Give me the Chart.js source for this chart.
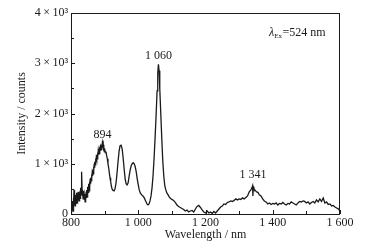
<!DOCTYPE html>
<html>
<head>
<meta charset="utf-8">
<script src="https://cdn.jsdelivr.net/npm/chart.js@4"></script>
<style>
  html, body { margin: 0; padding: 0; background: #fff; }
  #wrap { width: 372px; height: 250px; position: relative; }
</style>
</head>
<body>
<div id="wrap"><canvas id="c"></canvas></div>
<script>
// ── emission spectrum ───────────────────────────────────────────────────────
const wavelength = [
  800, 801, 802, 803, 804, 805, 806, 807, 808, 809, 810, 811, 812, 813, 814, 815,
  816, 817, 818, 819, 820, 821, 822, 823, 824, 825, 826, 827, 828, 829, 830, 831,
  832, 833, 834, 835, 836, 837, 838, 839, 840, 841, 842, 843, 844, 845, 846, 847,
  848, 849, 850, 851, 852, 853, 854, 855, 856, 857, 858, 859, 860, 861, 862, 863,
  864, 865, 866, 867, 868, 869, 870, 871, 872, 873, 874, 875, 876, 877, 878, 879,
  880, 881, 882, 883, 884, 885, 886, 887, 888, 889, 890, 891, 892, 893, 894, 895,
  896, 897, 898, 899, 900, 902, 904, 906, 908, 910, 912, 914, 916, 918, 920, 922,
  925, 928, 931, 934, 937, 940, 943, 946, 949, 952, 955, 958, 961, 964, 967, 970,
  973, 976, 979, 982, 985, 988, 991, 994, 997, 1000, 1003, 1006, 1010, 1014, 1018, 1022,
  1026, 1029, 1032, 1035, 1038, 1041, 1044, 1047, 1050, 1053, 1056, 1058, 1060, 1062, 1064, 1067,
  1070, 1073, 1076, 1079, 1082, 1085, 1088, 1092, 1096, 1100, 1105, 1110, 1115, 1120, 1125, 1130,
  1135, 1140, 1145, 1150, 1155, 1160, 1165, 1170, 1175, 1180, 1185, 1190, 1195, 1200, 1205, 1210,
  1215, 1220, 1225, 1230, 1235, 1240, 1245, 1250, 1255, 1260, 1265, 1270, 1275, 1280, 1285, 1290,
  1295, 1300, 1305, 1310, 1315, 1320, 1325, 1330, 1335, 1338, 1340, 1341, 1342, 1344, 1348, 1352,
  1356, 1360, 1365, 1370, 1375, 1380, 1385, 1390, 1395, 1400, 1405, 1410, 1415, 1420, 1425, 1430,
  1435, 1440, 1445, 1450, 1455, 1460, 1465, 1470, 1475, 1480, 1485, 1490, 1495, 1500, 1505, 1510,
  1515, 1520, 1525, 1530, 1535, 1540, 1545, 1550, 1555, 1560, 1565, 1570, 1575, 1580, 1585, 1590,
  1595, 1598, 1600
];
const intensity = [
  0, 120, 40, 260, 80, 180, 60, 320, 140, 480, 220, 300, 160, 380, 240, 320,
  200, 420, 260, 360, 240, 440, 300, 380, 260, 420, 320, 460, 300, 520, 380, 640,
  840, 480, 360, 440, 300, 460, 340, 400, 280, 360, 240, 400, 280, 440, 320, 480,
  340, 540, 400, 520, 420, 600, 460, 640, 520, 700, 600, 720, 660, 780, 700, 820,
  760, 880, 800, 940, 860, 1000, 920, 1040, 980, 1100, 1020, 1120, 1080, 1180, 1100, 1220,
  1140, 1260, 1180, 1300, 1200, 1340, 1240, 1320, 1260, 1380, 1280, 1360, 1300, 1400, 1460, 1320,
  1380, 1260, 1340, 1240, 1300, 1220, 1240, 1160, 1100, 1000, 920, 820, 720, 640, 560, 500,
  470, 460, 500, 620, 820, 1050, 1250, 1360, 1370, 1300, 1120, 900, 700, 600, 580, 620,
  760, 880, 960, 1000, 1020, 1000, 940, 840, 700, 580, 480, 420, 380, 360, 320, 260,
  200, 180, 200, 260, 360, 520, 760, 1100, 1500, 1950, 2450, 2800, 2980, 2850, 2500, 2000,
  1500, 1050, 750, 560, 480, 420, 390, 340, 310, 290, 270, 230, 180, 150, 130, 110,
  90, 60, 80, 40, 60, 70, 40, 100, 150, 170, 130, 80, 40, 20, 60, 20,
  40, 10, 50, 20, 60, 100, 140, 160, 200, 190, 230, 240, 260, 250, 270, 300,
  280, 300, 290, 320, 300, 330, 360, 440, 480, 520, 560, 360, 540, 500, 470, 440,
  430, 380, 360, 300, 260, 240, 200, 220, 190, 210, 200, 220, 180, 210, 200, 230,
  200, 180, 210, 200, 240, 220, 200, 180, 220, 250, 240, 260, 250, 220, 240, 200,
  230, 250, 220, 280, 240, 300, 250, 320, 220, 240, 190, 200, 160, 170, 140, 120,
  100, 80, 260
];

// axis ticks
const xTickLabels = { 800: "800", 1000: "1 000", 1200: "1 200", 1400: "1 400", 1600: "1 600" };
const yTickLabels = { 0: "0", 1000: "1\u2009×\u200910³", 2000: "2\u2009×\u200910³", 3000: "3\u2009×\u200910³", 4000: "4\u2009×\u200910³" };
const xMinorStep = 100;
const yMinorStep = 500;

// peak annotations [wavelength, intensity at label centre, text]
const peakLabels = [
  [894, 1580, "894"],
  [1060, 3140, "1 060"],
  [1341, 780, "1 341"]
];

const FONT = "'Liberation Serif', 'DejaVu Serif', serif";
const INK = "#1a1a1a";

// frame + inward ticks + text annotations, placed through the chart scales
const decor = {
  id: "decor",
  afterDraw(chart) {
    const { ctx, chartArea: a, scales: { x, y } } = chart;
    ctx.save();
    ctx.strokeStyle = INK;
    ctx.lineWidth = 1;
    ctx.strokeRect(a.left + 0.5, a.top + 0.5, a.right - a.left - 1, a.bottom - a.top);

    ctx.beginPath();
    for (let v = x.min; v <= x.max; v += xMinorStep) {
      const px = Math.round(x.getPixelForValue(v)) + 0.5;
      const len = v % 200 === 0 ? 4 : 3;
      ctx.moveTo(px, a.bottom);
      ctx.lineTo(px, a.bottom - len);
    }
    for (let v = y.min; v <= y.max; v += yMinorStep) {
      const py = Math.round(y.getPixelForValue(v)) + 0.5;
      const len = v % 1000 === 0 ? 4 : 3;
      ctx.moveTo(a.left, py);
      ctx.lineTo(a.left + len, py);
    }
    ctx.stroke();

    ctx.fillStyle = INK;
    ctx.font = "12px " + FONT;
    ctx.textAlign = "center";
    ctx.textBaseline = "middle";
    peakLabels.forEach(([wl, val, txt]) => {
      ctx.fillText(txt, x.getPixelForValue(wl), y.getPixelForValue(val));
    });

    // λEx=524 nm
    ctx.textAlign = "left";
    let tx = 269;
    const ty = 33;
    ctx.font = "italic 12px " + FONT;
    ctx.fillText("λ", tx, ty);
    tx += ctx.measureText("λ").width;
    ctx.font = "7px " + FONT;
    ctx.fillText("Ex", tx, ty + 3);
    tx += ctx.measureText("Ex").width + 0.5;
    ctx.font = "12px " + FONT;
    ctx.fillText("=524 nm", tx, ty);
    ctx.restore();
  }
};

new Chart(document.getElementById("c"), {
  type: "line",
  data: {
    datasets: [{
      data: wavelength.map((w, i) => ({ x: w, y: intensity[i] })),
      borderColor: INK,
      borderWidth: 1.3,
      pointRadius: 0,
      tension: 0,
      fill: false
    }]
  },
  options: {
    responsive: true,
    maintainAspectRatio: false,
    animation: false,
    layout: { padding: { top: 13, right: 32, left: 0, bottom: 0 } },
    plugins: { legend: { display: false }, tooltip: { enabled: false } },
    scales: {
      x: {
        type: "linear",
        min: 800,
        max: 1600,
        afterFit: (s) => { s.height = 36; },
        border: { display: false },
        grid: { display: false, drawTicks: false },
        ticks: {
          stepSize: 200,
          padding: 2,
          color: INK,
          font: { family: FONT, size: 12 },
          maxRotation: 0,
          autoSkip: false,
          callback: (v) => xTickLabels[v] ?? ""
        },
        title: {
          display: true,
          text: "Wavelength / nm",
          color: INK,
          font: { family: FONT, size: 12 },
          padding: { top: 0, bottom: 8 }
        }
      },
      y: {
        min: 0,
        max: 4000,
        afterFit: (s) => { s.width = 71; },
        border: { display: false },
        grid: { display: false, drawTicks: false },
        ticks: {
          stepSize: 1000,
          padding: 3,
          color: INK,
          font: { family: FONT, size: 12 },
          callback: (v) => yTickLabels[v] ?? ""
        },
        title: {
          display: true,
          text: "Intensity / counts",
          color: INK,
          font: { family: FONT, size: 12 },
          padding: { top: 15, bottom: 0 }
        }
      }
    }
  },
  plugins: [decor]
});
</script>
</body>
</html>
